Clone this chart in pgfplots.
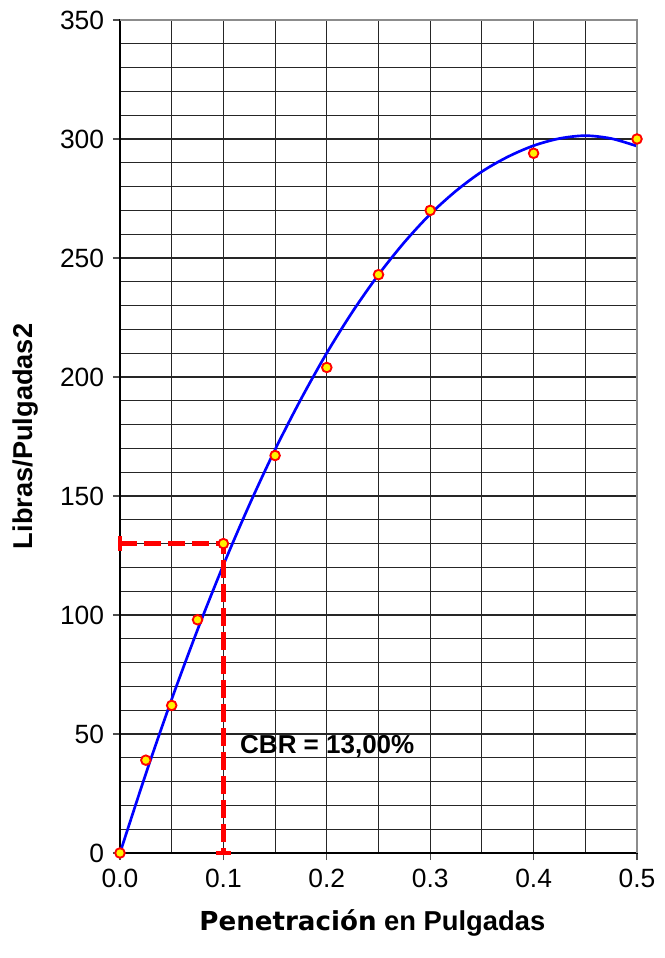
\documentclass[border=0pt]{standalone}
\usepackage{fontspec}
\setmainfont{Liberation Sans}
\newfontfamily\heavyfont{DejaVu Sans}
\usepackage{pgfplots}
\pgfplotsset{compat=1.18}
\begin{document}
\fontsize{19.5}{23}\selectfont
\begin{tikzpicture}
\begin{axis}[
  scale only axis,
  width=387.75pt, height=624.75pt,
  xmin=0, xmax=0.5, ymin=0, ymax=350,
  xtick={0,0.1,0.2,0.3,0.4,0.5},
  minor xtick={0.05,0.15,0.25,0.35,0.45},
  ytick={0,50,100,150,200,250,300,350},
  minor ytick={10,20,30,40,60,70,80,90,110,120,130,140,160,170,180,190,210,220,230,240,260,270,280,290,310,320,330,340},
  grid=both,
  major grid style={black!85, line width=0.85pt},
  minor grid style={black!85, line width=0.85pt},
  tick align=outside,
  major tick length=5.25pt,
  minor tick length=0pt,
  tick style={black!70, line width=0.9pt},
  xtick pos=bottom, ytick pos=left,
  axis line style={black, line width=1.4pt},
  /pgf/number format/assume math mode=true,
  xticklabel style={/pgf/number format/.cd, fixed, fixed zerofill, precision=1, /tikz/.cd},
  scaled x ticks=false,
  yticklabel style={/pgf/number format/.cd, fixed, precision=0, /tikz/.cd},
  ticklabel style={font=\fontsize{19.8}{23}\selectfont},
  xlabel={{\heavyfont\bfseries\fontsize{19.6}{24}\selectfont Penetración} \textbf{en Pulgadas}},
  xlabel style={font=\fontsize{20.5}{24}\selectfont, at={(axis description cs:0.488,0)}, anchor=base, yshift=-57.75pt},
  ylabel={\textbf{Libras/Pulgadas2}},
  ylabel style={font=\fontsize{20.4}{24}\selectfont, at={(axis description cs:0,0.5)}, anchor=center, yshift=71pt},
  clip=false,
]
% curve (polynomial trend line)
\addplot[blue, line width=2pt, smooth] coordinates {
(0,0) (0.025,33.3) (0.05,64.6) (0.075,93.8) (0.1,121.0) (0.125,146.2)
(0.15,169.5) (0.175,190.7) (0.2,210.1) (0.225,227.5) (0.25,243.0)
(0.275,256.6) (0.3,268.4) (0.325,278.2) (0.35,286.3) (0.375,292.5)
(0.4,297.2) (0.425,300.2) (0.45,301.4) (0.475,300.2) (0.5,297.0)};
% CBR dashed red guide lines
\addplot[red, line width=3.4pt, dash pattern=on 13pt off 5pt] coordinates {(0,130) (0.1,130) (0.1,0)};
\addplot[red, only marks, mark=|, mark size=5.5pt, mark options={line width=3pt, solid}] coordinates {(0,130)};
\addplot[red, only marks, mark=-, mark size=5.5pt, mark options={line width=3pt, solid}] coordinates {(0.1,0)};
% data points
\addplot[only marks, mark=*, mark size=3.6pt, mark options={draw=red, fill=yellow, line width=1.4pt}] coordinates {
(0,0) (0.025,39) (0.05,62) (0.075,98) (0.1,130) (0.15,167) (0.2,204)
(0.25,243) (0.3,270) (0.4,294) (0.5,300)};
\node[anchor=base west, inner sep=0pt, font=\bfseries\fontsize{19.5}{23}\selectfont] at (axis cs:0.116,42) {CBR = 13,00\%};
\draw[black!45, line width=1.4pt] (rel axis cs:0,1) -- (rel axis cs:1,1) -- (rel axis cs:1,0);
\path (rel axis cs:0,0) ++(-90pt,-78.75pt) (rel axis cs:1,1) ++(15pt,15pt);
\end{axis}
\end{tikzpicture}
\end{document}
